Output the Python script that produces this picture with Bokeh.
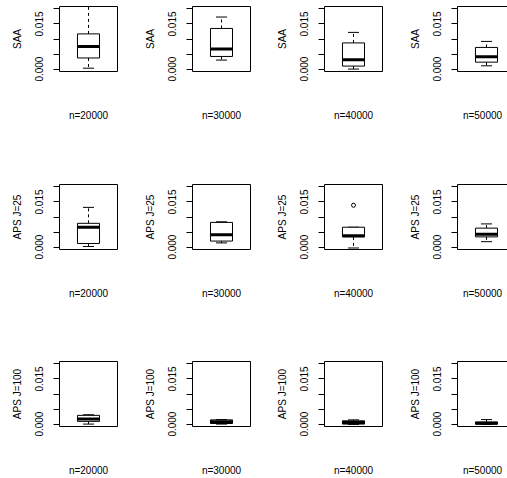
import math
from bokeh.plotting import figure
from bokeh.layouts import column, row
from bokeh.models import Range1d, FixedTicker, LinearAxis
from bokeh.embed import file_html
from bokeh.resources import INLINE

# ---------------- data ----------------
methods = ["SAA", "APS J=25", "APS J=100"]
sample_sizes = ["n=20000", "n=30000", "n=40000", "n=50000"]
tick_values = [0.000, 0.005, 0.010, 0.015, 0.020]
tick_labels = ["0.000", "", "", "0.015", ""]

# SAA
saa_lower = [0.0003, 0.0030, 0.0000, 0.0011]
saa_q1 = [0.0037, 0.0042, 0.0010, 0.0023]
saa_median = [0.0075, 0.0067, 0.0031, 0.0041]
saa_q3 = [0.0117, 0.0135, 0.0087, 0.0072]
saa_upper = [0.0230, 0.0173, 0.0122, 0.0092]
saa_outliers = [[], [], [], []]

# APS J=25
aps25_lower = [0.0002, 0.0014, -0.0003, 0.0018]
aps25_q1 = [0.0012, 0.0020, 0.0034, 0.0034]
aps25_median = [0.0066, 0.0041, 0.0038, 0.0043]
aps25_q3 = [0.0079, 0.0082, 0.0066, 0.0063]
aps25_upper = [0.0132, 0.0084, 0.0066, 0.0077]
aps25_outliers = [[], [], [0.0139], []]

# APS J=100
aps100_lower = [0.0000, 0.0000, -0.0001, -0.0001]
aps100_q1 = [0.0009, 0.0002, 0.0000, 0.0000]
aps100_median = [0.0017, 0.0008, 0.0005, 0.0003]
aps100_q3 = [0.0029, 0.0014, 0.0011, 0.0007]
aps100_upper = [0.0031, 0.0015, 0.0014, 0.0015]
aps100_outliers = [[], [], [], []]

stats = [
    (saa_lower, saa_q1, saa_median, saa_q3, saa_upper, saa_outliers),
    (aps25_lower, aps25_q1, aps25_median, aps25_q3, aps25_upper, aps25_outliers),
    (aps100_lower, aps100_q1, aps100_median, aps100_q3, aps100_upper, aps100_outliers),
]

# ---------------- layout ----------------
FONT = "Liberation Sans"
FS = "10px"
col_widths = [133, 132, 133, 109]
row_heights = [178, 177, 123]
LEFT = 59
TOP = 6
FRAME_W = 58
FRAME_H = 65
BOX_HALF = 0.19
CAP_HALF = 0.095
Y0, Y1 = -0.0008, 0.0208

rows = []
for r, method in enumerate(methods):
    lo, q1, med, q3, up, outs = stats[r]
    figs = []
    for c, size in enumerate(sample_sizes):
        last = (c == len(sample_sizes) - 1)
        w = col_widths[c]
        h = row_heights[r]
        rb = 0 if last else w - LEFT - FRAME_W
        fw = w - LEFT - rb
        bb = h - TOP - FRAME_H
        xr = Range1d(0.5, 0.5 + fw / FRAME_W)
        p = figure(width=w, height=h, x_range=xr, y_range=Range1d(Y0, Y1),
                   output_backend="svg", toolbar_location=None,
                   min_border_left=LEFT, min_border_right=rb,
                   min_border_top=TOP, min_border_bottom=bb,
                   x_axis_label=size, y_axis_label=method)
        p.grid.visible = False
        p.background_fill_color = "white"
        p.border_fill_color = "white"
        p.outline_line_color = None if last else "black"
        p.outline_line_width = 1

        ya = p.yaxis[0]
        ya.ticker = FixedTicker(ticks=tick_values)
        ya.major_label_overrides = dict(zip(tick_values, tick_labels))
        ya.major_label_orientation = "parallel"
        ya.major_tick_in = 0
        ya.major_tick_out = 6
        ya.minor_tick_line_color = None
        ya.major_label_standoff = 10
        ya.axis_label_standoff = 10
        ya.major_label_text_font = FONT
        ya.major_label_text_font_size = FS
        ya.major_label_text_color = "black"
        ya.axis_label_text_font = FONT
        ya.axis_label_text_font_size = FS
        ya.axis_label_text_font_style = "normal"
        ya.axis_label_text_color = "black"
        ya.axis_line_color = "black" if last else None
        ya.major_tick_line_color = "black"

        xa = p.xaxis[0]
        xa.ticker = FixedTicker(ticks=[])
        xa.major_tick_in = 0
        xa.major_tick_out = 0
        xa.minor_tick_line_color = None
        xa.major_label_standoff = 0
        xa.axis_label_standoff = 38
        xa.axis_label_text_font = FONT
        xa.axis_label_text_font_size = FS
        xa.axis_label_text_font_style = "normal"
        xa.axis_label_text_color = "black"
        xa.axis_line_color = "black" if last else None

        if last:
            ta = LinearAxis(ticker=FixedTicker(ticks=[]), major_tick_in=0, major_tick_out=0,
                            minor_tick_line_color=None, major_label_standoff=0,
                            axis_line_color="black")
            p.add_layout(ta, "above")

        xc = 1.0
        # whiskers (dashed)
        p.segment(x0=[xc, xc], y0=[q3[c], q1[c]], x1=[xc, xc], y1=[up[c], lo[c]],
                  line_color="black", line_width=1, line_dash="3 3")
        # caps
        p.segment(x0=[xc - CAP_HALF] * 2, y0=[up[c], lo[c]], x1=[xc + CAP_HALF] * 2, y1=[up[c], lo[c]],
                  line_color="black", line_width=1)
        # box
        p.quad(left=[xc - BOX_HALF], right=[xc + BOX_HALF], bottom=[q1[c]], top=[q3[c]],
               fill_color="white", line_color="black", line_width=1)
        # median
        p.segment(x0=[xc - BOX_HALF], y0=[med[c]], x1=[xc + BOX_HALF], y1=[med[c]],
                  line_color="black", line_width=3, line_cap="butt")
        # outliers
        if outs[c]:
            p.scatter(x=[xc] * len(outs[c]), y=outs[c], marker="circle", size=4,
                      fill_color=None, line_color="black", line_width=1)
        figs.append(p)
    rows.append(row(*figs, spacing=0))

layout = column(*rows, spacing=0)
open("out.html", "w").write(file_html(layout, INLINE))
